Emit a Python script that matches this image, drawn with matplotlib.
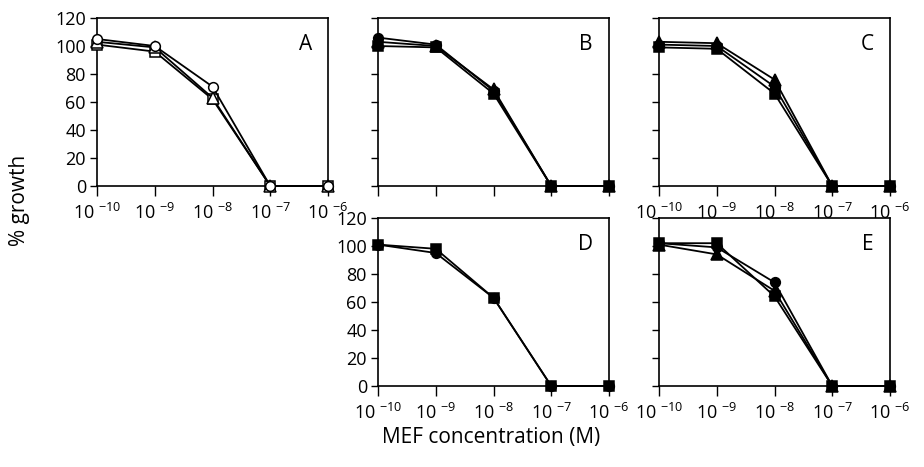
import matplotlib
matplotlib.use("Agg")
import matplotlib.pyplot as plt
from matplotlib.ticker import FixedLocator, NullLocator

plt.rcParams["font.family"] = ["Open Sans", "DejaVu Sans"]
plt.rcParams["mathtext.default"] = "regular"

conc = [1e-10, 1e-9, 1e-8, 1e-7, 1e-6]
tick_labels = ["10 $^{-10}$", "10 $^{-9}$", "10 $^{-8}$", "10 $^{-7}$", "10 $^{-6}$"]

# panel A (open markers)
a_circle = [105, 100, 71, 0, 0]
a_square = [101, 96, 62, 0, 0]
a_triangle = [103, 99, 63, 0, 0]
# panel B
b_circle = [106, 101, 68, 0, 0]
b_square = [100, 99, 66, 0, 0]
b_triangle = [103, 100, 69, 0, 0]
# panel C
c_triangle = [103, 102, 76, 0, 0]
c_circle = [101, 100, 71, 0, 0]
c_square = [99, 98, 66, 0, 0]
# panel D
d_square = [101, 98, 63, 0, 0]
d_circle = [101, 95, 63, 0, 0]
# panel E
e_square = [102, 102, 64, 0, 0]
e_circle = [102, 99, 74, 0, 0]
e_triangle = [101, 94, 68, 0, 0]

W, H = 924, 467
fig = plt.figure(figsize=(W / 100, H / 100), dpi=100)


def make_ax(x0, y_top, y_bot, x1):
    return fig.add_axes([x0 / W, (H - y_bot) / H, (x1 - x0) / W, (y_bot - y_top) / H])


def style(ax, letter, ylabels, xlabels):
    ax.set_xscale("log")
    ax.set_xlim(1e-10, 1e-6)
    ax.set_ylim(0, 120)
    ax.xaxis.set_major_locator(FixedLocator(conc))
    ax.xaxis.set_minor_locator(NullLocator())
    ax.set_yticks(range(0, 121, 20))
    ax.tick_params(direction="out", length=5, width=1, labelsize=13, pad=3)
    ax.tick_params(axis="x", length=7, pad=5)
    if xlabels:
        ax.set_xticklabels(tick_labels)
    else:
        ax.set_xticklabels([])
    if not ylabels:
        ax.set_yticklabels([])
    for s in ax.spines.values():
        s.set_linewidth(1.2)
    ax.text(0.93, 0.84, letter, transform=ax.transAxes, ha="right", va="center", fontsize=15)


def series(ax, vals, marker, filled):
    ax.plot(conc, vals, color="black", lw=1.3, marker=marker, ms=7 if marker != "^" else 8,
            mfc="black" if filled else "white", mec="black", mew=1.1, clip_on=False, zorder=3)


axA = make_ax(97, 18, 186, 328)
series(axA, a_square, "s", False)
series(axA, a_triangle, "^", False)
series(axA, a_circle, "o", False)
style(axA, "A", True, True)

axB = make_ax(378, 18, 186, 609)
series(axB, b_square, "s", True)
series(axB, b_triangle, "^", True)
series(axB, b_circle, "o", True)
style(axB, "B", False, False)

axC = make_ax(659, 18, 186, 890)
series(axC, c_square, "s", True)
series(axC, c_circle, "o", True)
series(axC, c_triangle, "^", True)
style(axC, "C", False, True)

axD = make_ax(378, 218, 386, 609)
series(axD, d_circle, "o", True)
series(axD, d_square, "s", True)
style(axD, "D", True, True)

axE = make_ax(659, 218, 386, 890)
series(axE, e_triangle, "^", True)
series(axE, e_circle, "o", True)
series(axE, e_square, "s", True)
style(axE, "E", False, True)

fig.text(20 / W, 1 - 200 / H, "% growth", rotation=90, ha="center", va="center", fontsize=15)
fig.text(491 / W, 1 - 437 / H, "MEF concentration (M)", ha="center", va="center", fontsize=15)

fig.savefig("out.png", dpi=100)
